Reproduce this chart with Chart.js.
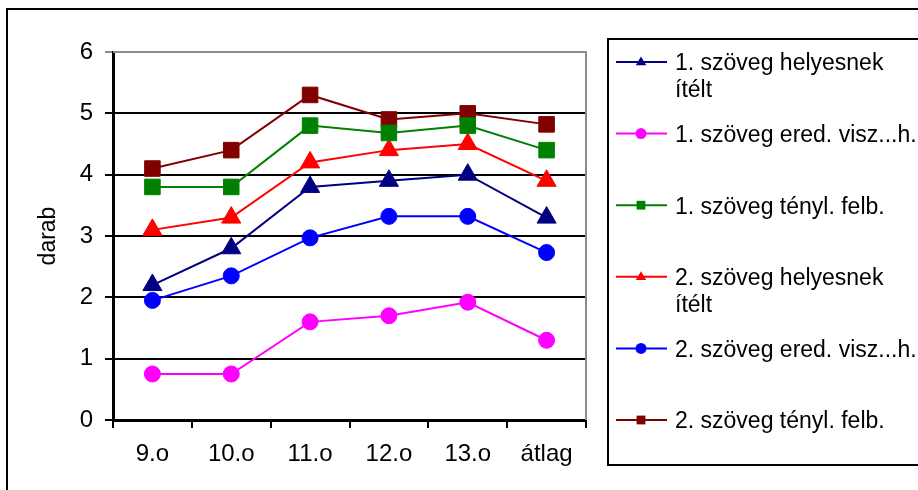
<!DOCTYPE html>
<html>
<head>
<meta charset="utf-8">
<script src="https://cdn.jsdelivr.net/npm/chart.js@4/dist/chart.umd.min.js"></script>
<style>
  html, body { margin: 0; padding: 0; background: #fff; }
  #wrap { width: 918px; height: 490px; position: relative; }
</style>
</head>
<body>
<div id="wrap"><canvas id="chart"></canvas></div>
<script>
const FONT = '"Liberation Sans", Arial, sans-serif';

const categories = ['9.o', '10.o', '11.o', '12.o', '13.o', 'átlag'];

const text1Correct = [2.2, 2.8, 3.8, 3.9, 4.0, 3.3];
const text1Recall = [0.75, 0.75, 1.6, 1.7, 1.92, 1.3];
const text1Solved = [3.8, 3.8, 4.8, 4.68, 4.8, 4.4];
const text2Correct = [3.1, 3.3, 4.2, 4.4, 4.5, 3.9];
const text2Recall = [1.95, 2.35, 2.97, 3.32, 3.32, 2.73];
const text2Solved = [4.1, 4.4, 5.3, 4.9, 5.0, 4.82];

// legend labels, already split into lines
const seriesLabels = [
  ['1. szöveg helyesnek', 'ítélt'],
  ['1. szöveg ered. visz...h.'],
  ['1. szöveg tényl. felb.'],
  ['2. szöveg helyesnek', 'ítélt'],
  ['2. szöveg ered. visz...h.'],
  ['2. szöveg tényl. felb.']
];

const yTicks = [0, 1, 2, 3, 4, 5, 6];

function series(label, data, color, style, radius) {
  return {
    label: label.join(' '),
    lines: label,
    data: data,
    borderColor: color,
    backgroundColor: color,
    borderWidth: 2,
    pointStyle: style,
    pointRadius: radius,
    pointHoverRadius: radius,
    pointBorderWidth: 1,
    tension: 0
  };
}

// outer frame of the whole chart + grey plot border
const frame = {
  id: 'frame',
  beforeDraw(chart) {
    const ctx = chart.ctx;
    ctx.save();
    ctx.fillStyle = '#fff';
    ctx.fillRect(0, 0, chart.width, chart.height);
    ctx.strokeStyle = '#000';
    ctx.lineWidth = 2;
    ctx.strokeRect(7, 9, 1000, 1000);
    ctx.restore();
  },
  beforeDatasetsDraw(chart) {
    const a = chart.chartArea;
    const ctx = chart.ctx;
    ctx.save();
    ctx.strokeStyle = '#8c8c8c';
    ctx.lineWidth = 2;
    ctx.beginPath();
    ctx.moveTo(a.left, a.top);
    ctx.lineTo(a.right, a.top);
    ctx.lineTo(a.right, a.bottom);
    ctx.stroke();
    ctx.restore();
  }
};

function marker(ctx, style, x, y, r) {
  ctx.beginPath();
  if (style === 'triangle') {
    ctx.moveTo(x, y - r);
    ctx.lineTo(x + r * 0.95, y + r * 0.6);
    ctx.lineTo(x - r * 0.95, y + r * 0.6);
    ctx.closePath();
  } else if (style === 'rect') {
    ctx.rect(x - r * 0.8, y - r * 0.8, r * 1.6, r * 1.6);
  } else {
    ctx.arc(x, y, r, 0, Math.PI * 2);
  }
  ctx.fill();
}

// legend on the right, with wrapped labels
const sideLegend = {
  id: 'sideLegend',
  afterDraw(chart) {
    const ctx = chart.ctx;
    ctx.save();
    ctx.strokeStyle = '#000';
    ctx.lineWidth = 2;
    ctx.strokeRect(608, 39, 400, 426);
    ctx.font = '23px ' + FONT;
    ctx.textBaseline = 'middle';
    ctx.textAlign = 'left';
    chart.data.datasets.forEach((ds, i) => {
      const y = 62 + i * 71.6;
      ctx.strokeStyle = ds.borderColor;
      ctx.lineWidth = 2;
      ctx.beginPath();
      ctx.moveTo(616, y);
      ctx.lineTo(667, y);
      ctx.stroke();
      ctx.fillStyle = ds.borderColor;
      marker(ctx, ds.pointStyle, 641, y, 5.5);
      ctx.fillStyle = '#000';
      ds.lines.forEach((t, k) => ctx.fillText(t, 675, y + 2 + k * 27));
    });
    ctx.restore();
  }
};

new Chart(document.getElementById('chart'), {
  type: 'line',
  data: {
    labels: categories,
    datasets: [
      series(seriesLabels[0], text1Correct, '#000080', 'triangle', 11),
      series(seriesLabels[1], text1Recall, '#ff00ff', 'circle', 8),
      series(seriesLabels[2], text1Solved, '#008000', 'rect', 11),
      series(seriesLabels[3], text2Correct, '#ff0000', 'triangle', 11),
      series(seriesLabels[4], text2Recall, '#0000ff', 'circle', 8),
      series(seriesLabels[5], text2Solved, '#800000', 'rect', 11)
    ]
  },
  options: {
    responsive: true,
    maintainAspectRatio: false,
    animation: false,
    layout: { padding: { left: 0, right: 332, top: 52, bottom: 0 } },
    plugins: {
      legend: { display: false },
      tooltip: { enabled: false }
    },
    scales: {
      x: {
        type: 'category',
        offset: true,
        afterFit: (scale) => { scale.height = 70; },
        grid: {
          offset: true,
          drawOnChartArea: false,
          drawTicks: true,
          tickLength: 8,
          color: '#000',
          lineWidth: 2
        },
        border: { display: true, color: '#000', width: 3 },
        ticks: {
          color: '#000',
          font: { family: FONT, size: 24 },
          padding: 12,
          maxRotation: 0
        }
      },
      y: {
        min: 0,
        max: 6,
        afterFit: (scale) => { scale.width = 113; },
        afterBuildTicks: (scale) => { scale.ticks = yTicks.map(v => ({ value: v })); },
        grid: {
          color: (c) => c.tick && c.tick.value === 6 ? '#8c8c8c' : '#000',
          lineWidth: 2,
          drawTicks: true,
          tickLength: 8
        },
        border: { display: true, color: '#000', width: 3 },
        ticks: {
          color: '#000',
          font: { family: FONT, size: 24 },
          padding: 12
        },
        title: {
          display: true,
          text: 'darab',
          color: '#000',
          font: { family: FONT, size: 23 },
          padding: { top: 35, bottom: 0 }
        }
      }
    }
  },
  plugins: [frame, sideLegend]
});
</script>
</body>
</html>
